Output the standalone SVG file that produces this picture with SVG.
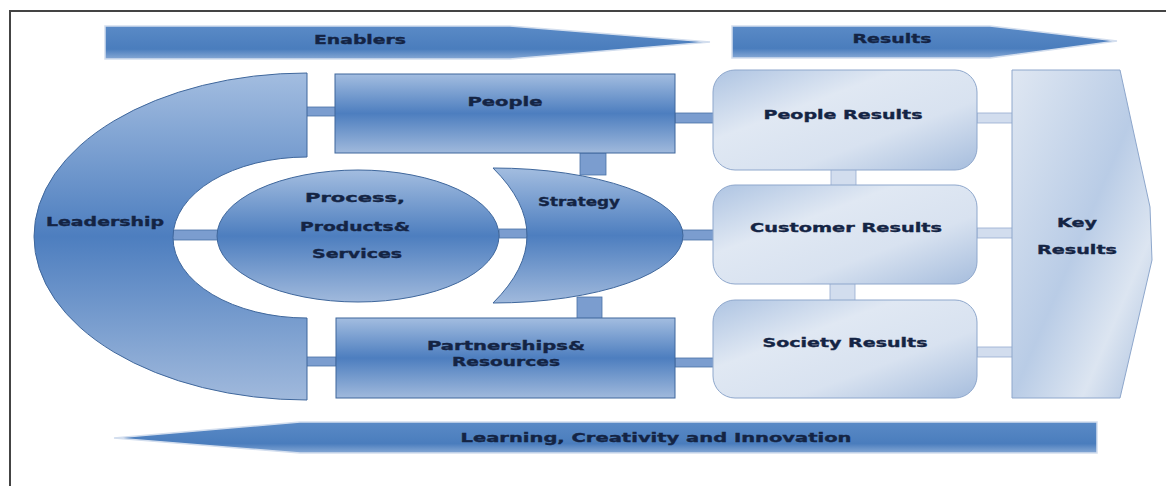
<svg xmlns="http://www.w3.org/2000/svg" width="1166" height="486" viewBox="0 0 1166 486">
<defs>
<linearGradient id="gDark" x1="0" y1="0" x2="0" y2="1">
<stop offset="0" stop-color="#a3bde0"/>
<stop offset="0.5" stop-color="#4d7ebf"/>
<stop offset="1" stop-color="#a0b9dc"/>
</linearGradient>
<linearGradient id="gArrow" x1="0" y1="0" x2="0" y2="1">
<stop offset="0" stop-color="#5a8ac6"/>
<stop offset="0.7" stop-color="#4a7dbd"/>
<stop offset="1" stop-color="#86a8d5"/>
</linearGradient>
<linearGradient id="gLight" x1="0" y1="0" x2="1" y2="1">
<stop offset="0" stop-color="#aec4e2"/>
<stop offset="0.35" stop-color="#e0e8f3"/>
<stop offset="0.65" stop-color="#d8e2f0"/>
<stop offset="1" stop-color="#a6bddd"/>
</linearGradient>
<linearGradient id="gKey" x1="0" y1="0" x2="1" y2="1">
<stop offset="0" stop-color="#dfe7f2"/>
<stop offset="0.5" stop-color="#b9cce6"/>
<stop offset="0.75" stop-color="#dce5f1"/>
<stop offset="1" stop-color="#a9bfde"/>
</linearGradient>
<style>
.dark{fill:url(#gDark);stroke:#3f679c;stroke-width:1}
.arrow{fill:url(#gArrow);stroke:#d3deee;stroke-width:1.5}
.light{fill:url(#gLight);stroke:#8ea7cc;stroke-width:1}
.key{fill:url(#gKey);stroke:#8ea7cc;stroke-width:1}
.cd{fill:#7b9dcf;stroke:#4a71a6;stroke-width:0.8}
.cl{fill:#d2ddee;stroke:#96acd0;stroke-width:0.8}
text{font-family:"DejaVu Sans",Verdana,sans-serif;font-weight:bold;font-size:12.5px;fill:#142444;stroke:#142444;stroke-width:0.35;text-anchor:middle}
</style>
</defs>
<rect width="1166" height="486" fill="#ffffff"/>
<g id="frame" fill="none" stroke="#444" stroke-width="2">
<path d="M10,486 L10,11 L1166,11"/>
</g>
<g id="connectors">
<rect class="cd" x="306" y="107" width="30" height="9"/>
<rect class="cd" x="306" y="357" width="30" height="9"/>
<rect class="cd" x="172" y="230" width="46" height="10"/>
<rect class="cd" x="499" y="229" width="28" height="9"/>
<rect class="cd" x="580" y="153" width="26" height="22"/>
<rect class="cd" x="577" y="297" width="25" height="22"/>
<rect class="cd" x="675" y="113" width="39" height="10"/>
<rect class="cd" x="682" y="230" width="32" height="10"/>
<rect class="cd" x="675" y="358" width="39" height="9"/>
<rect class="cl" x="831" y="169" width="25" height="17"/>
<rect class="cl" x="830" y="283" width="25" height="18"/>
<rect class="cl" x="977" y="113" width="36" height="10"/>
<rect class="cl" x="977" y="228" width="36" height="10"/>
<rect class="cl" x="977" y="347" width="36" height="10"/>
</g>
<g id="enablers">
<path class="arrow" d="M105,26 L510,26 L710,42 L510,59 L105,59 Z"/>
<text x="360" y="44" textLength="92" lengthAdjust="spacingAndGlyphs">Enablers</text>
</g>
<g id="results">
<path class="arrow" d="M732,26 L990,26 L1117,41 L990,58 L732,58 Z"/>
<text x="892" y="43" textLength="79" lengthAdjust="spacingAndGlyphs">Results</text>
</g>
<g id="leadership">
<path class="dark" d="M307,73 A273,163.5 0 0 0 34,236.5 A273,163.5 0 0 0 307,400 L307,318 A134,80.5 0 0 1 173,237.5 A134,80.5 0 0 1 307,157 Z"/>
<text x="105" y="226" textLength="118" lengthAdjust="spacingAndGlyphs">Leadership</text>
</g>
<g id="people">
<rect class="dark" x="335" y="74" width="340" height="79"/>
<text x="505" y="106" textLength="75" lengthAdjust="spacingAndGlyphs">People</text>
</g>
<g id="process">
<ellipse class="dark" cx="358" cy="236" rx="141" ry="66"/>
<text x="355" y="202" textLength="100" lengthAdjust="spacingAndGlyphs">Process,</text>
<text x="355" y="231" textLength="110" lengthAdjust="spacingAndGlyphs">Products&amp;</text>
<text x="357" y="258" textLength="90" lengthAdjust="spacingAndGlyphs">Services</text>
</g>
<g id="strategy">
<path class="dark" d="M493,168 A190,67.5 0 0 1 683,235.5 A190,67.5 0 0 1 493,303 Q561,235.5 493,168 Z"/>
<text x="579" y="206" textLength="82" lengthAdjust="spacingAndGlyphs">Strategy</text>
</g>
<g id="partnerships">
<rect class="dark" x="336" y="318" width="339" height="80"/>
<text x="506" y="350" textLength="158" lengthAdjust="spacingAndGlyphs">Partnerships&amp;</text>
<text x="506" y="366" textLength="108" lengthAdjust="spacingAndGlyphs">Resources</text>
</g>
<g id="people-results">
<rect class="light" x="713" y="70" width="264" height="100" rx="22"/>
<text x="843" y="119" textLength="159" lengthAdjust="spacingAndGlyphs">People Results</text>
</g>
<g id="customer-results">
<rect class="light" x="713" y="185" width="264" height="99" rx="22"/>
<text x="846" y="232" textLength="192" lengthAdjust="spacingAndGlyphs">Customer Results</text>
</g>
<g id="society-results">
<rect class="light" x="713" y="300" width="264" height="98" rx="22"/>
<text x="845" y="347" textLength="165" lengthAdjust="spacingAndGlyphs">Society Results</text>
</g>
<g id="key-results">
<path class="key" d="M1012,70 L1120,70 L1150,207 L1152,260 L1120,398 L1012,398 Z"/>
<text x="1077" y="227" textLength="40" lengthAdjust="spacingAndGlyphs">Key</text>
<text x="1077" y="254" textLength="80" lengthAdjust="spacingAndGlyphs">Results</text>
</g>
<g id="learning">
<path class="arrow" d="M1097,422 L300,422 L114,438 L300,453 L1097,453 Z"/>
<text x="656" y="442" textLength="391" lengthAdjust="spacingAndGlyphs">Learning, Creativity and Innovation</text>
</g>
</svg>
